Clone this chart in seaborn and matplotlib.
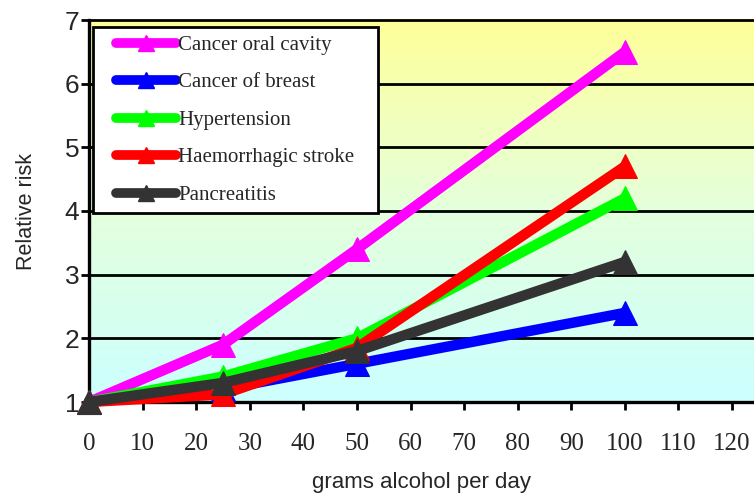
import numpy as np
import pandas as pd
import matplotlib
matplotlib.use("Agg")
import matplotlib.pyplot as plt
import seaborn as sns
from matplotlib.colors import LinearSegmentedColormap
from matplotlib.lines import Line2D
from matplotlib.legend_handler import HandlerLine2D

# Data
grams = [0, 25, 50, 100]
oral_cavity = [1.0, 1.9, 3.4, 6.5]
breast = [1.0, 1.2, 1.6, 2.4]
hypertension = [1.0, 1.4, 2.0, 4.2]
stroke = [1.0, 1.12, 1.85, 4.7]
pancreatitis = [1.0, 1.3, 1.8, 3.2]
series_names = ["Cancer oral cavity", "Cancer of breast", "Hypertension",
                "Haemorrhagic stroke", "Pancreatitis"]
series_values = [oral_cavity, breast, hypertension, stroke, pancreatitis]
colors = ["#FF00FF", "#0000FF", "#00FF00", "#FF0000", "#333333"]
xticks = list(range(0, 130, 10))
yticks = [1, 2, 3, 4, 5, 6, 7]

rows = []
for name, vals in zip(series_names, series_values):
    for g, v in zip(grams, vals):
        rows.append({"grams": g, "risk": v, "series": name})
df = pd.DataFrame(rows)

sns.set_style("white")
fig = plt.figure(figsize=(7.54, 4.95), dpi=100)
ax = fig.add_axes([89/754, (495-402)/495, 1 - 89/754, (402-20)/495])

# gradient background
cmap = LinearSegmentedColormap.from_list("bg", ["#CCFFFF", "#E4FFDD", "#FFFF99"])
grad = np.linspace(0, 1, 256).reshape(-1, 1)
ax.imshow(grad, cmap=cmap, aspect="auto", extent=[0, 1, 0, 1],
          transform=ax.transAxes, origin="lower", zorder=0)

for y in yticks:
    ax.axhline(y, color="black", lw=2.0, zorder=1, clip_on=False)

sns.lineplot(data=df, x="grams", y="risk", hue="series", hue_order=series_names,
             palette=colors, marker="^", markersize=17, lw=7.5, ax=ax,
             zorder=3, legend=False)
for line, c in zip(ax.get_lines()[len(yticks):], colors):
    line.set_markeredgecolor(c)
    line.set_clip_on(False)

ax.set_xlim(0, 124.1)
ax.set_ylim(1, 7)
ax.set_xticks(xticks)
ax.set_yticks(yticks)
ax.set_xticklabels([str(t) for t in xticks], family="Liberation Serif", fontsize=18)
ax.set_yticklabels([str(t) for t in yticks], family="Liberation Sans", fontsize=19)
ax.tick_params(axis="both", direction="out", length=6, width=2, color="black",
               bottom=True, left=True)
ax.tick_params(axis="y", pad=1)
ax.tick_params(axis="x", pad=16.5)
for s in ["left", "bottom"]:
    ax.spines[s].set_linewidth(2.4)
    ax.spines[s].set_color("black")
ax.spines["top"].set_visible(False)
ax.spines["right"].set_visible(False)

ax.set_xlabel("grams alcohol per day", family="Liberation Sans", fontsize=16, labelpad=12)
ax.set_ylabel("Relative risk", family="Liberation Sans", fontsize=15.5, labelpad=20)

handles = [Line2D([0], [0], color=c, lw=7, marker="^", markersize=12,
                  markeredgecolor=c, solid_capstyle="round") for c in colors]
leg = fig.legend(handles, series_names, loc="upper left",
                 bbox_to_anchor=(93/754, 1 - 213/495, (378-93)/754, (213-27)/495),
                 mode="expand",
                 handler_map={Line2D: HandlerLine2D(xpad=0.72)},
                 prop={"family": "Liberation Serif", "size": 15},
                 frameon=True, fancybox=False, framealpha=1, edgecolor="black",
                 handlelength=3.6, handletextpad=0.1, labelspacing=0.86,
                 borderpad=0.4, borderaxespad=0)
leg.get_frame().set_linewidth(2)
leg.set_zorder(10)

fig.savefig("out.png", dpi=100)
